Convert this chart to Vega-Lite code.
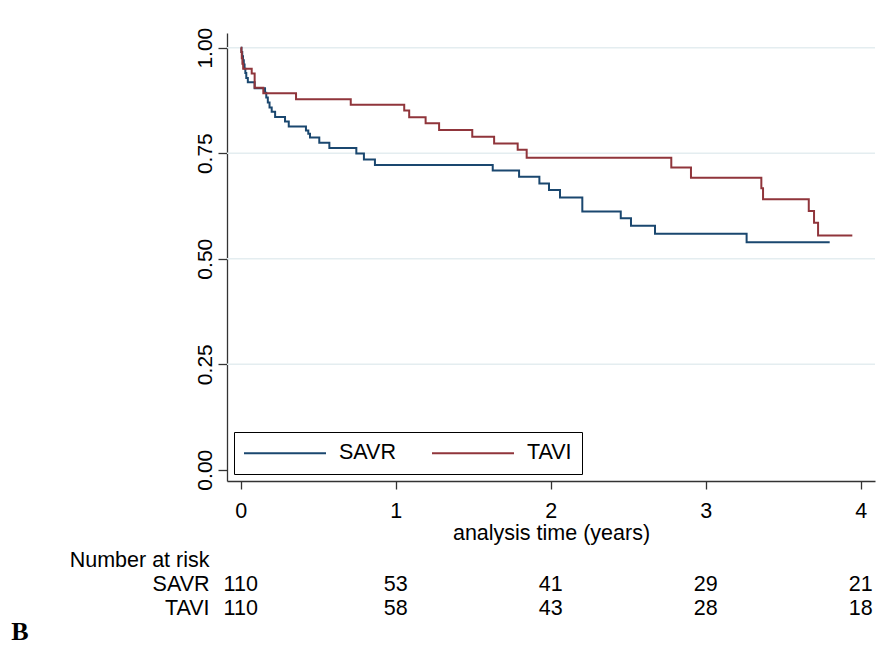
{
  "$schema": "https://vega.github.io/schema/vega-lite/v6.json",
  "background": "white",
  "padding": {"left": 11, "top": 27, "right": 15, "bottom": 0},
  "config": {"view": {"stroke": null}, "font": "Liberation Sans"},
  "title": {"text": "B", "orient": "bottom", "anchor": "start", "font": "Liberation Serif", "fontSize": 26, "fontWeight": "bold", "color": "#000", "dx": -58, "offset": -2},
  "spacing": 4,
  "datasets": {
    "km": [
      {"grp": "SAVR", "t": 0, "s": 1.0},
      {"grp": "SAVR", "t": 0.005, "s": 0.99},
      {"grp": "SAVR", "t": 0.01, "s": 0.98},
      {"grp": "SAVR", "t": 0.015, "s": 0.97},
      {"grp": "SAVR", "t": 0.02, "s": 0.96},
      {"grp": "SAVR", "t": 0.025, "s": 0.95},
      {"grp": "SAVR", "t": 0.03, "s": 0.94},
      {"grp": "SAVR", "t": 0.036, "s": 0.928},
      {"grp": "SAVR", "t": 0.046, "s": 0.918},
      {"grp": "SAVR", "t": 0.09, "s": 0.904},
      {"grp": "SAVR", "t": 0.157, "s": 0.893},
      {"grp": "SAVR", "t": 0.165, "s": 0.882},
      {"grp": "SAVR", "t": 0.175, "s": 0.87},
      {"grp": "SAVR", "t": 0.186, "s": 0.858},
      {"grp": "SAVR", "t": 0.2, "s": 0.848},
      {"grp": "SAVR", "t": 0.222, "s": 0.836},
      {"grp": "SAVR", "t": 0.286, "s": 0.825},
      {"grp": "SAVR", "t": 0.31, "s": 0.813},
      {"grp": "SAVR", "t": 0.421, "s": 0.804},
      {"grp": "SAVR", "t": 0.436, "s": 0.796},
      {"grp": "SAVR", "t": 0.447, "s": 0.787},
      {"grp": "SAVR", "t": 0.507, "s": 0.775},
      {"grp": "SAVR", "t": 0.572, "s": 0.762},
      {"grp": "SAVR", "t": 0.746, "s": 0.749},
      {"grp": "SAVR", "t": 0.795, "s": 0.735},
      {"grp": "SAVR", "t": 0.866, "s": 0.722},
      {"grp": "SAVR", "t": 1.626, "s": 0.709},
      {"grp": "SAVR", "t": 1.796, "s": 0.694},
      {"grp": "SAVR", "t": 1.927, "s": 0.678},
      {"grp": "SAVR", "t": 1.989, "s": 0.663},
      {"grp": "SAVR", "t": 2.06, "s": 0.645},
      {"grp": "SAVR", "t": 2.204, "s": 0.612},
      {"grp": "SAVR", "t": 2.452, "s": 0.596},
      {"grp": "SAVR", "t": 2.518, "s": 0.578},
      {"grp": "SAVR", "t": 2.673, "s": 0.559},
      {"grp": "SAVR", "t": 3.264, "s": 0.539},
      {"grp": "SAVR", "t": 3.8, "s": 0.539},
      {"grp": "TAVI", "t": 0, "s": 1.0},
      {"grp": "TAVI", "t": 0.004, "s": 0.99},
      {"grp": "TAVI", "t": 0.007, "s": 0.975},
      {"grp": "TAVI", "t": 0.011, "s": 0.962},
      {"grp": "TAVI", "t": 0.016, "s": 0.95},
      {"grp": "TAVI", "t": 0.071, "s": 0.939},
      {"grp": "TAVI", "t": 0.09, "s": 0.905},
      {"grp": "TAVI", "t": 0.146, "s": 0.892},
      {"grp": "TAVI", "t": 0.357, "s": 0.878},
      {"grp": "TAVI", "t": 0.71, "s": 0.865},
      {"grp": "TAVI", "t": 1.055, "s": 0.851},
      {"grp": "TAVI", "t": 1.087, "s": 0.835},
      {"grp": "TAVI", "t": 1.193, "s": 0.821},
      {"grp": "TAVI", "t": 1.28, "s": 0.805},
      {"grp": "TAVI", "t": 1.494, "s": 0.789},
      {"grp": "TAVI", "t": 1.635, "s": 0.773},
      {"grp": "TAVI", "t": 1.787, "s": 0.758},
      {"grp": "TAVI", "t": 1.845, "s": 0.739},
      {"grp": "TAVI", "t": 2.778, "s": 0.716},
      {"grp": "TAVI", "t": 2.905, "s": 0.692},
      {"grp": "TAVI", "t": 3.359, "s": 0.667},
      {"grp": "TAVI", "t": 3.37, "s": 0.641},
      {"grp": "TAVI", "t": 3.665, "s": 0.613},
      {"grp": "TAVI", "t": 3.699, "s": 0.585},
      {"grp": "TAVI", "t": 3.725, "s": 0.555},
      {"grp": "TAVI", "t": 3.946, "s": 0.555}
    ],
    "grid": [{"g": 0.25}, {"g": 0.5}, {"g": 0.75}, {"g": 1.0}],
    "risk": [
      {"row": "SAVR", "t": 0, "n": 110},
      {"row": "SAVR", "t": 1, "n": 53},
      {"row": "SAVR", "t": 2, "n": 41},
      {"row": "SAVR", "t": 3, "n": 29},
      {"row": "SAVR", "t": 4, "n": 21},
      {"row": "TAVI", "t": 0, "n": 110},
      {"row": "TAVI", "t": 1, "n": 58},
      {"row": "TAVI", "t": 2, "n": 43},
      {"row": "TAVI", "t": 3, "n": 28},
      {"row": "TAVI", "t": 4, "n": 18}
    ]
  },
  "vconcat": [
    {
      "width": 648,
      "height": 448,
      "layer": [
        {
          "data": {"name": "grid"},
          "mark": {"type": "rule", "color": "#e4edf0", "strokeWidth": 1.5},
          "encoding": {
            "y": {"field": "g", "type": "quantitative", "scale": {"domain": [-0.0268, 1.0348], "nice": false, "zero": false},
              "axis": {"values": [0, 0.25, 0.5, 0.75, 1], "format": ".2f", "title": null, "grid": false, "tickSize": 9, "labelAngle": -90, "labelAlign": "center", "labelBaseline": "alphabetic", "labelPadding": 7, "labelFontSize": 21, "labelColor": "#000", "domainColor": "#333", "tickColor": "#333", "domainWidth": 1.3, "tickWidth": 1.3, "labelFont": "Liberation Sans", "labelFlush": false, "labelOverlap": false}}
          }
        },
        {
          "data": {"name": "km"},
          "mark": {"type": "line", "interpolate": "step-after", "strokeWidth": 2},
          "encoding": {
            "x": {
              "field": "t", "type": "quantitative",
              "scale": {"domain": [-0.0884, 4.0923], "nice": false, "zero": false},
              "axis": {"values": [0, 1, 2, 3, 4], "format": "d", "title": "analysis time (years)", "grid": false, "tickSize": 8, "labelPadding": 11, "titlePadding": 1, "labelFontSize": 21.5, "titleFontSize": 21.5, "titleFontWeight": "normal", "labelColor": "#000", "titleColor": "#000", "domainColor": "#333", "tickColor": "#333", "domainWidth": 1.3, "tickWidth": 1.3, "labelFont": "Liberation Sans", "titleFont": "Liberation Sans", "labelFlush": false}
            },
            "y": {
              "field": "s", "type": "quantitative",
              "scale": {"domain": [-0.0268, 1.0348], "nice": false, "zero": false},
              "axis": {"values": [0, 0.25, 0.5, 0.75, 1], "format": ".2f", "title": null, "grid": false, "tickSize": 9, "labelAngle": -90, "labelAlign": "center", "labelBaseline": "alphabetic", "labelPadding": 7, "labelFontSize": 21, "labelColor": "#000", "domainColor": "#333", "tickColor": "#333", "domainWidth": 1.3, "tickWidth": 1.3, "labelFont": "Liberation Sans", "labelFlush": false, "labelOverlap": false}
            },
            "color": {
              "field": "grp", "type": "nominal",
              "scale": {"domain": ["SAVR", "TAVI"], "range": ["#1a476f", "#90353b"]},
              "legend": {"title": null, "orient": "none", "legendX": 7, "legendY": 399, "direction": "horizontal", "symbolType": "M-4.1,0H4.1", "symbolSize": 400, "symbolOffset": 30, "symbolStrokeWidth": 2, "labelFontSize": 21.5, "labelFont": "Liberation Sans", "labelColor": "#000", "labelOffset": 43, "columnPadding": 32, "padding": 10, "strokeColor": "#000", "fillColor": "#fff", "labelLimit": 200}
            }
          }
        }
      ]
    },
    {
      "width": 648,
      "height": 73,
      "data": {"name": "risk"},
      "mark": {"type": "text", "fontSize": 21.5, "font": "Liberation Sans", "color": "#000", "align": "center", "baseline": "middle"},
      "encoding": {
        "x": {"field": "t", "type": "quantitative", "scale": {"domain": [-0.0884, 4.0923], "nice": false, "zero": false}, "axis": null},
        "y": {"field": "row", "type": "nominal", "scale": {"domain": ["Number at risk", "SAVR", "TAVI"], "paddingInner": 0, "paddingOuter": 0}, "axis": {"title": null, "domain": false, "ticks": false, "grid": false, "labelPadding": 18, "labelFontSize": 21.5, "labelColor": "#000", "labelFont": "Liberation Sans", "labelLimit": 300}},
        "text": {"field": "n", "type": "quantitative"}
      }
    }
  ]
}
